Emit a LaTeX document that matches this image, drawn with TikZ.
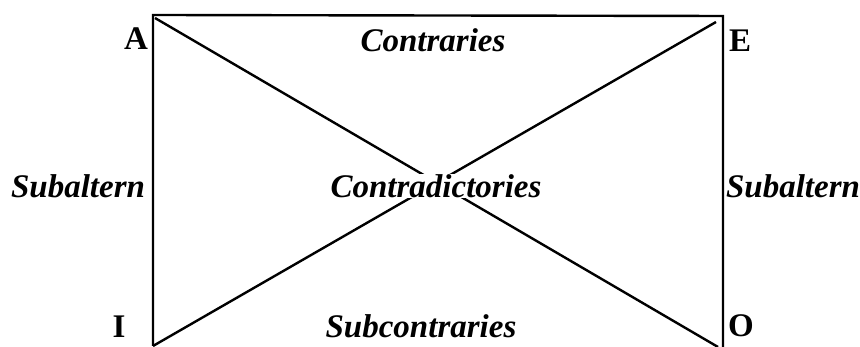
\documentclass[tikz,border=0pt]{standalone}
\usepackage{fontspec}
\setmainfont{Liberation Serif}
\begin{document}
\begin{tikzpicture}[x=1pt,y=1pt,
  ln/.style={line width=2.4pt},
  lbl/.style={font=\fontsize{33}{36}\selectfont\bfseries\itshape, inner sep=0pt},
  crn/.style={font=\fontsize{33}{36}\selectfont\bfseries, inner sep=0pt}]
\useasboundingbox (0,0) rectangle (860,347);
\coordinate (A) at (153,332);
\coordinate (E) at (723,331);
\coordinate (I) at (153,1);
\coordinate (O) at (723,0);
\coordinate (Ad) at (155,329);
\coordinate (Ed) at (716,325);
\coordinate (Od) at (718,0);
\draw[ln] (I) -- (A) -- (E) -- (O);
\draw[ln] (Ad) -- (Od);
\draw[ln] (I) -- (Ed);
\node[crn] (la) at (136,308) {A};
\node[crn] (le) at (740,306) {E};
\node[crn] (li) at (119,20) {I};
\node[crn] (lo) at (741,21) {O};
\node[lbl] (contr) at (433,307) {Contraries};
\node[lbl, fill=white] (contd) at (436,161) {Contradictories};
\node[lbl] (subc) at (421,21) {Subcontraries};
\node[lbl] (subl) at (78,161) {Subaltern};
\node[lbl] (subr) at (793,161) {Subaltern};
\end{tikzpicture}
\end{document}
